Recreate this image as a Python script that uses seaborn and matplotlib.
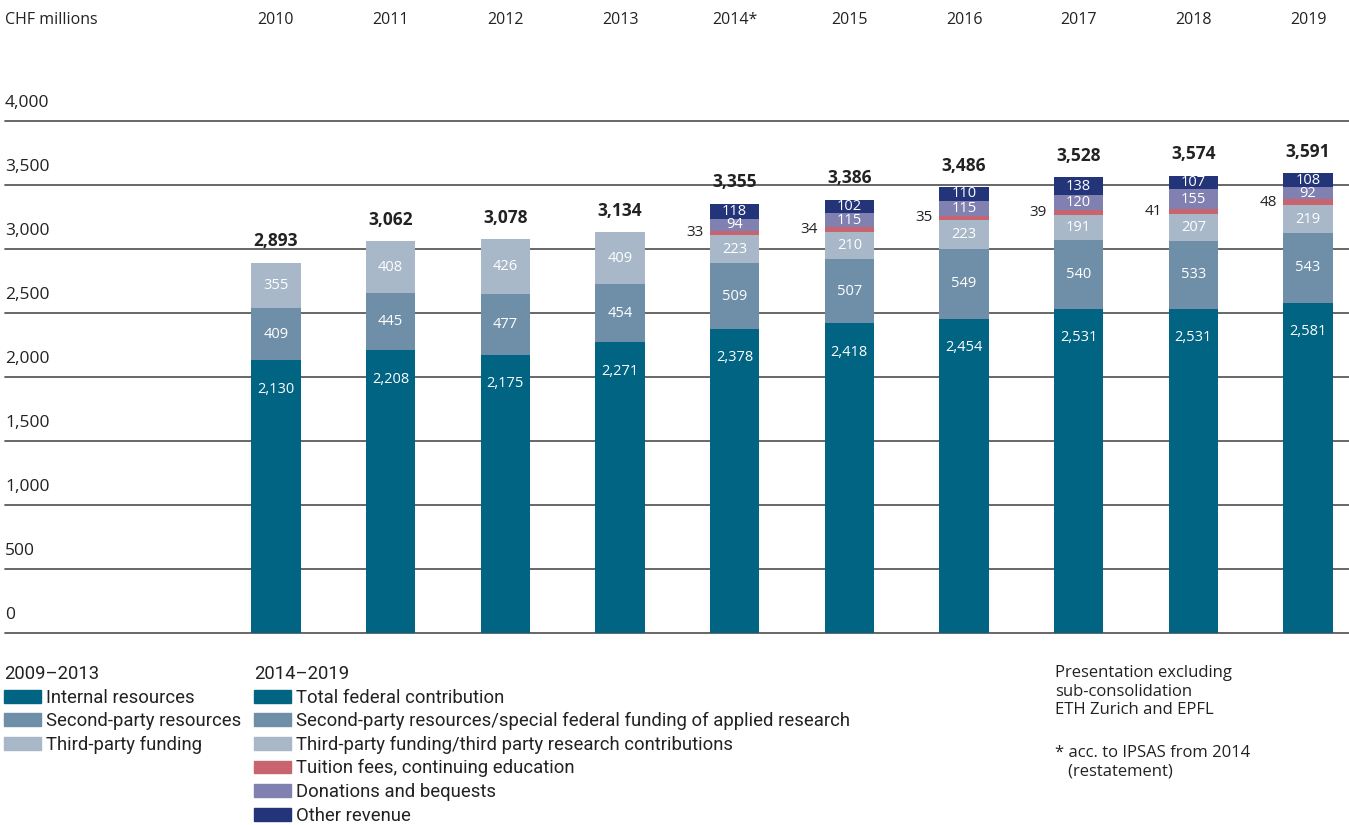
import numpy as np
import matplotlib
matplotlib.use("Agg")
import matplotlib.pyplot as plt
from matplotlib.patches import Patch
import seaborn as sns

years = ["2010", "2011", "2012", "2013", "2014*", "2015", "2016", "2017", "2018", "2019"]
internal = [2130, 2208, 2175, 2271, 2378, 2418, 2454, 2531, 2531, 2581]
second = [409, 445, 477, 454, 509, 507, 549, 540, 533, 543]
third = [355, 408, 426, 409, 223, 210, 223, 191, 207, 219]
new_years = ["2014*", "2015", "2016", "2017", "2018", "2019"]
tuition = [33, 34, 35, 39, 41, 48]
donations = [94, 115, 115, 120, 155, 92]
other = [118, 102, 110, 138, 107, 108]
totals = ["2,893", "3,062", "3,078", "3,134", "3,355", "3,386", "3,486", "3,528", "3,574", "3,591"]
yticks = [0, 500, 1000, 1500, 2000, 2500, 3000, 3500, 4000]

c_int = "#006482"
c_sec = "#6f8fa8"
c_thi = "#a8b8c9"
c_tui = "#c8646e"
c_don = "#8080b1"
c_oth = "#233479"

sns.set_theme(style="white")
plt.rcParams["font.family"] = ["Open Sans", "DejaVu Sans"]
narrow = ["Roboto", "DejaVu Sans"]
txt = "#222222"

fig = plt.figure(figsize=(13.49, 8.25), dpi=100)
ax = fig.add_axes([5 / 1349, 192 / 825, 1 - 5 / 1349, 512 / 825])

n_old = 4
b1 = np.array(internal)
b2 = b1 + np.array(second)
b3 = b2 + np.array(third)
b4 = b3[n_old:] + np.array(tuition)
b5 = b4 + np.array(donations)
b6 = b5 + np.array(other)
tops = np.concatenate([b3[:n_old], b6])

w = 0.43
kw = dict(order=years, width=w, saturation=1, errorbar=None, ax=ax, zorder=3, linewidth=0)
sns.barplot(x=years, y=internal, color=c_int, **kw)
sns.barplot(x=years, y=second, bottom=b1, color=c_sec, **kw)
sns.barplot(x=years, y=third, bottom=b2, color=c_thi, **kw)
sns.barplot(x=new_years, y=tuition, bottom=b3[n_old:], color=c_tui, **kw)
sns.barplot(x=new_years, y=donations, bottom=b4, color=c_don, **kw)
sns.barplot(x=new_years, y=other, bottom=b5, color=c_oth, **kw)

ax.set_xlim(-2.363, 9.357)
ax.set_ylim(0, 4000)
for s in ax.spines.values():
    s.set_visible(False)
ax.set_xticks([])
ax.set_yticks([])
ax.set_xlabel("")
ax.set_ylabel("")

for v in yticks:
    ax.axhline(v, color="#5a5a5a", lw=1.3, zorder=1, clip_on=False)
    ax.text(-2.363, v + 75, f"{v:,}", ha="left", va="bottom", fontsize=12.5, color=txt)

for i, y in enumerate(years):
    ax.text(i, 4790, y, ha="center", va="center", fontsize=11.5, color=txt, clip_on=False)
ax.text(-2.363, 4790, "CHF millions", ha="left", va="center", fontsize=11.5, color=txt, clip_on=False)

lab = dict(ha="center", va="center", color="white", fontsize=10.5, zorder=4)
for i in range(len(years)):
    ax.text(i, internal[i] - 225, f"{internal[i]:,}", **lab)
    ax.text(i, b1[i] + second[i] / 2, f"{second[i]}", **lab)
    ax.text(i, b2[i] + third[i] / 2, f"{third[i]}", **lab)
    ax.text(i, tops[i] + 165, totals[i], ha="center", va="center",
            fontsize=12.5, fontweight="bold", color=txt, zorder=4)
for j in range(len(new_years)):
    i = j + n_old
    ax.text(i - w / 2 - 0.06, b3[i] + tuition[j] / 2, f"{tuition[j]}", ha="right", va="center",
            fontsize=11, color=txt, zorder=4)
    ax.text(i, b4[j] + donations[j] / 2, f"{donations[j]}", **lab)
    ax.text(i, b5[j] + other[j] / 2, f"{other[j]}", **lab)

leg_kw = dict(loc="upper left", frameon=False, borderpad=0, borderaxespad=0,
              handlelength=2.0, handleheight=0.7, handletextpad=0.25, labelspacing=0.3,
              alignment="left", prop={"family": narrow, "size": 13.3},
              title_fontproperties={"family": narrow, "size": 13.3})
h1 = [Patch(color=c_int), Patch(color=c_sec), Patch(color=c_thi)]
l1 = ["Internal resources", "Second-party resources", "Third-party funding"]
leg1 = fig.legend(h1, l1, title="2009\u20132013", bbox_to_anchor=(4 / 1349, 1 - 665 / 825), **leg_kw)
h2 = [Patch(color=c) for c in [c_int, c_sec, c_thi, c_tui, c_don, c_oth]]
l2 = ["Total federal contribution",
      "Second-party resources/special federal funding of applied research",
      "Third-party funding/third party research contributions",
      "Tuition fees, continuing education",
      "Donations and bequests",
      "Other revenue"]
leg2 = fig.legend(h2, l2, title="2014\u20132019", bbox_to_anchor=(254 / 1349, 1 - 665 / 825), **leg_kw)
for lg in (leg1, leg2):
    lg.get_title().set_color(txt)
    for t in lg.get_texts():
        t.set_color(txt)

fig.text(1055 / 1349, 1 - 665 / 825,
         "Presentation excluding\nsub-consolidation\nETH Zurich and EPFL",
         ha="left", va="top", fontsize=12, color=txt, linespacing=1.22)
fig.text(1055 / 1349, 1 - 745 / 825, "* acc. to IPSAS from 2014\n   (restatement)",
         ha="left", va="top", fontsize=12, color=txt, linespacing=1.22)

fig.savefig("out.png", dpi=100)
